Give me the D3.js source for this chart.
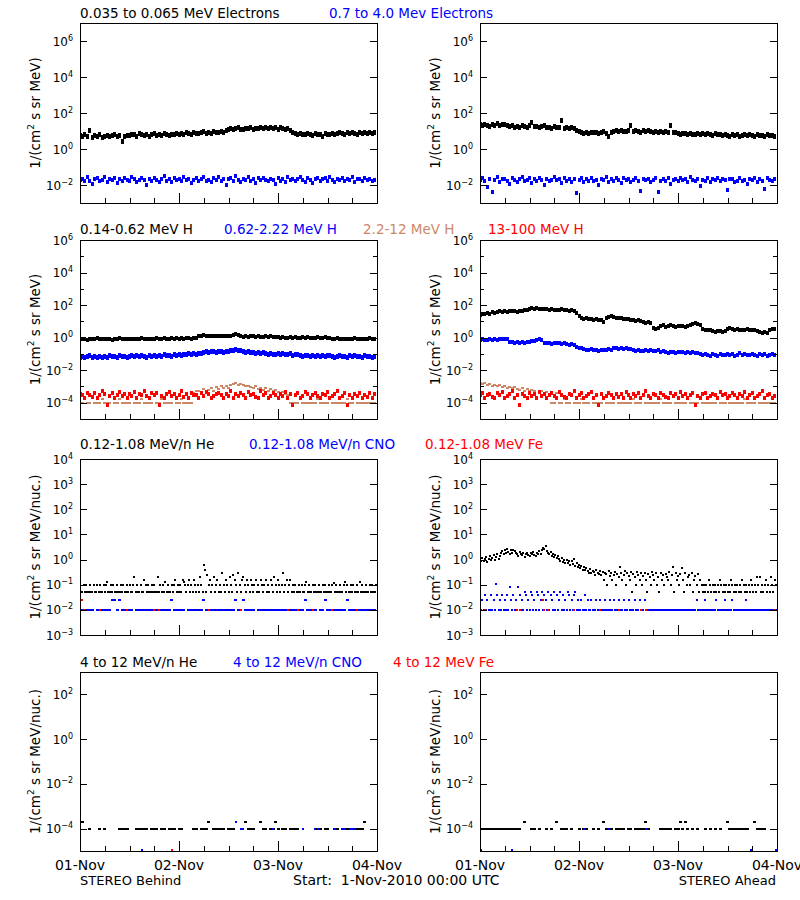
<!DOCTYPE html>
<html><head><meta charset="utf-8">
<script src="https://cdn.jsdelivr.net/npm/d3@7"></script>
<style>
body{margin:0;background:#fff}
svg{display:block}
text{font-family:"DejaVu Sans",sans-serif}
</style>
</head><body>
<svg id="c" width="800" height="900"></svg>
<script>
// ---------------- DATA ----------------
// x tick labels
const xTickLabels = ["01-Nov","02-Nov","03-Nov","04-Nov"];
// titles per row
const titlesRow1 = ["0.035 to 0.065 MeV Electrons","0.7 to 4.0 Mev Electrons"];
const titlesRow2 = ["0.14-0.62 MeV H","0.62-2.22 MeV H","2.2-12 MeV H","13-100 MeV H"];
const titlesRow3 = ["0.12-1.08 MeV/n He","0.12-1.08 MeV/n CNO","0.12-1.08 MeV Fe"];
const titlesRow4 = ["4 to 12 MeV/n He","4 to 12 MeV/n CNO","4 to 12 MeV Fe"];
const yLabelH = "MeV)";
const yLabelN = "MeV/nuc.)";

// Row 1: electrons, log10 flux, 120 samples over 3 days
const eLowBehindLog = [0.75,0.68,0.80,0.71,1.05,0.66,0.74,0.70,0.78,0.63,0.72,0.76,0.69,0.74,0.81,0.67,0.73,0.42,0.70,0.77,
0.74,0.82,0.78,0.71,0.85,0.79,0.76,0.83,0.72,0.80,0.86,0.77,0.81,0.74,0.84,0.79,0.73,0.82,0.78,0.85,
0.80,0.88,0.83,0.90,0.86,0.79,0.92,0.87,0.84,0.91,0.95,0.88,0.93,0.86,0.97,0.92,0.89,0.99,0.94,1.02,
1.10,1.16,1.08,1.14,1.19,1.11,1.07,1.15,1.12,1.18,1.09,1.13,
1.16,1.20,1.12,1.18,1.15,1.21,1.13,1.17,1.10,1.19,1.14,1.08,1.12,1.05,
0.92,0.86,0.80,0.88,0.83,0.78,0.85,0.81,0.76,0.87,0.82,0.79,0.72,0.84,0.80,
0.83,0.88,0.79,0.86,0.91,0.84,0.80,0.89,0.85,0.92,0.87,0.83,0.90,0.86,0.93,0.88,0.91,0.86,0.94];
const eHighBehindLog = [-1.72,-1.65,-1.80,-1.58,-1.75,-1.95,-1.68,-1.62,-1.78,-1.70,
-1.55,-1.83,-1.66,-1.74,-1.60,-1.88,-1.69,-1.76,-1.63,-1.71,
-1.79,-1.57,-1.67,-1.85,-1.73,-1.61,-1.70,-1.98,-1.64,-1.77,
-1.59,-1.72,-1.81,-1.66,-1.52,-1.75,-1.69,-1.86,-1.62,-1.74,
-1.68,-1.80,-1.57,-1.71,-1.65,-1.90,-1.73,-1.60,-1.78,-1.67,
-1.55,-1.76,-1.70,-1.84,-1.63,-1.72,-1.58,-1.79,-1.66,-2.02,
-1.69,-1.61,-1.75,-1.48,-1.72,-1.82,-1.64,-1.70,-1.56,-1.77,
-1.68,-1.87,-1.62,-1.74,-1.59,-1.71,-1.80,-1.65,-1.73,-1.92,
-1.60,-1.76,-1.67,-1.83,-1.58,-1.70,-1.64,-1.78,-1.69,-1.55,
-1.74,-1.81,-1.63,-1.71,-1.88,-1.66,-1.59,-1.75,-1.68,-1.62,
-1.79,-1.57,-1.72,-1.85,-1.65,-1.70,-1.61,-1.77,-1.67,-1.73,
-1.58,-1.82,-1.69,-1.64,-1.76,-1.60,-1.72,-1.66,-1.80,-1.71];
const eLowAheadLog = [1.36,1.30,1.38,1.33,1.27,1.35,1.31,1.39,1.29,1.34,1.37,1.28,
1.25,1.31,1.22,1.27,1.19,1.28,1.24,1.21,1.30,1.46,1.23,1.26,1.18,1.25,1.29,1.22,
1.20,1.15,1.23,1.17,1.21,1.57,1.16,1.22,1.13,1.19,1.14,1.05,
0.95,0.91,0.88,0.93,0.86,0.92,0.89,0.94,0.85,0.90,0.96,0.87,0.70,0.93,
0.97,1.01,0.95,1.03,0.98,1.00,1.04,1.28,0.96,1.02,0.99,0.94,1.01,0.97,1.03,0.95,
0.93,0.98,0.90,0.95,0.91,0.97,0.89,1.31,0.94,0.92,
0.86,0.82,0.88,0.84,0.80,0.87,0.83,0.79,0.85,0.81,0.86,0.78,0.84,0.82,0.77,0.85,0.80,
0.78,0.74,0.81,0.76,0.72,0.79,0.75,0.82,0.70,0.77,0.80,0.73,0.78,0.75,0.71,0.79,0.74,0.76,0.72,0.78,0.73,0.75,0.70];
const eHighAheadLog = [-1.70,-1.62,-1.78,-2.10,-1.66,-2.38,-1.74,-1.58,-1.81,-1.69,
-1.64,-1.76,-1.95,-1.60,-1.72,-1.85,-1.67,-1.55,-1.79,-1.71,
-1.63,-1.88,-1.68,-1.75,-1.59,-1.73,-2.02,-1.65,-1.80,-1.70,
-1.57,-1.74,-1.66,-1.90,-1.61,-1.77,-1.69,-1.82,-1.64,-2.45,
-1.72,-1.60,-1.86,-1.67,-1.75,-1.62,-1.79,-1.71,-1.98,-1.65,
-1.73,-1.58,-1.83,-1.69,-1.76,-1.63,-1.70,-1.88,-1.61,-1.74,
-1.66,-1.81,-1.72,-1.59,-1.77,-2.35,-1.68,-1.73,-1.64,-1.84,
-1.70,-1.62,-2.40,-1.75,-1.67,-1.79,-1.60,-1.93,-1.71,-1.66,
-1.78,-1.63,-1.74,-1.69,-1.86,-1.58,-1.72,-1.80,-1.65,-2.05,
-1.71,-1.76,-1.62,-1.83,-1.68,-1.74,-1.60,-1.79,-1.66,-1.73,
-2.30,-1.69,-1.64,-1.81,-1.75,-1.61,-1.77,-1.70,-1.96,-1.67,
-1.73,-1.59,-1.84,-1.68,-1.76,-2.20,-1.63,-1.71,-1.80,-1.66];

// Row 2: protons, log10 flux, 120 samples
const hLowBehindLog = [-0.10,-0.06,-0.09,-0.12,-0.07,-0.08,-0.11,-0.05,-0.09,-0.07,-0.10,-0.06,-0.08,-0.12,-0.07,-0.09,-0.05,-0.08,-0.10,-0.06,-0.09,-0.07,-0.11,-0.06,-0.08,-0.05,-0.09,-0.07,-0.10,-0.06,-0.08,-0.04,-0.07,-0.09,-0.05,-0.08,-0.06,-0.04,-0.07,-0.05,-0.08,-0.04,-0.06,-0.03,-0.05,-0.07,-0.03,-0.05,
0.08,0.13,0.16,0.11,0.09,0.13,0.10,0.07,0.11,0.09,0.12,0.08,0.10,0.13,
0.17,0.21,0.18,
0.10,0.06,0.08,0.04,0.07,0.09,0.05,0.08,0.06,0.03,0.07,0.05,0.09,0.04,0.06,
0.02,-0.01,0.03,0.00,-0.02,0.01,-0.03,0.02,0.00,-0.01,0.03,-0.02,0.01,-0.04,0.00,-0.02,0.02,-0.01,-0.03,0.01,-0.02,-0.04,
-0.06,-0.09,-0.05,-0.08,-0.11,-0.06,-0.09,-0.07,-0.10,-0.05,-0.08,-0.06,-0.10,-0.07,-0.09,-0.05,-0.08,-0.07];
const hMidBehindLog = [-1.20,-1.14,-1.23,-1.17,-1.12,-1.21,-1.16,-1.25,-1.13,-1.19,-1.15,-1.22,-1.11,-1.18,-1.14,-1.20,-1.10,-1.17,-1.13,-1.21,-1.15,-1.09,-1.18,-1.12,-1.16,-1.08,-1.14,-1.19,-1.11,-1.15,-1.07,-1.13,-1.10,-1.16,-1.06,-1.12,-1.09,-1.14,-1.05,-1.10,
-1.04,-1.08,-1.01,-1.06,-0.99,-1.03,-0.97,-1.02,-0.95,-0.98,
-0.90,-0.86,-0.92,-0.88,-0.84,-0.91,-0.87,-0.85,-0.89,-0.83,-0.86,-0.81,
-0.77,-0.73,-0.76,-0.80,
-0.88,-0.92,-0.87,-0.94,-0.90,-0.95,-0.91,-0.96,-0.93,
-0.99,-1.03,-0.98,-1.05,-1.01,-0.97,-1.04,-1.00,-1.06,-1.02,-0.99,-1.07,-1.03,-1.05,
-1.10,-1.14,-1.08,-1.12,-1.16,-1.09,-1.13,-1.11,-1.17,-1.10,-1.15,-1.12,-1.08,-1.14,-1.22,-1.18,-1.11,-1.15,-1.13,-1.19,-1.10,-1.16,-1.12,-1.18,-1.14,-1.20,-1.11,-1.17,-1.13,-1.19,-1.15];
const hHighBehindLog = [-4.02,-4.02,-3.75,-4.02,-4.02,null,-4.02,-4.02,-4.02,-3.75,
-4.02,-4.02,-4.02,null,-4.02,-4.02,-3.75,-4.02,-4.02,-4.02,
-4.02,null,-4.02,-4.02,-4.02,-3.75,-4.02,-4.02,-4.02,-4.02,
null,-4.02,-4.02,-3.75,-4.02,-4.02,-4.02,-4.02,null,-4.02,
-4.02,-3.75,-4.02,-4.02,-4.02,-4.02,-3.40,-3.30,
-3.25,-3.35,-3.15,-3.30,-3.20,-3.10,-3.28,-3.05,-3.18,-3.00,
-3.12,-2.95,-3.08,-2.90,-2.85,-2.80,-2.88,-2.82,-2.92,-3.00,
-2.95,-3.05,-3.10,-2.98,-3.15,-3.08,-3.20,-3.12,-3.25,-3.18,
-3.30,-3.22,-3.35,-3.40,-3.32,-3.45,-3.50,
-4.02,-4.02,-4.02,-4.02,null,-4.02,-4.02,-4.02,-4.02,-4.02,
-4.02,-3.75,-4.02,-4.02,-4.02,-4.02,null,-4.02,-4.02,-4.02,
-4.02,-4.02,-4.02,-3.75,-4.02,-4.02,null,-4.02,-4.02,-4.02,
-4.02,-4.02,-4.02,-4.02,-4.02];
const hTopBehindLog = [-3.45,-3.55,-3.72,-3.38,-3.50,-3.62,-3.41,-3.72,-3.53,-3.30,
-3.47,-4.15,-3.58,-3.40,-3.72,-3.52,-3.35,-3.60,-3.44,-3.72,
-3.49,-3.57,-3.33,-3.72,-3.46,-3.54,-3.25,-3.61,-3.72,-3.43,
-3.51,-3.39,-4.15,-3.56,-3.72,-3.48,-3.36,-3.59,-3.45,-3.72,
-3.53,-3.28,-3.62,-3.47,-3.72,-3.40,-3.55,-3.50,-3.72,-3.42,
-3.58,-3.34,-3.49,-3.72,-3.61,-3.44,-3.38,-3.52,-3.72,-3.46,
-3.56,-3.31,-3.72,-3.48,-3.59,-3.41,-3.53,-3.72,-3.37,-3.50,
-3.45,-3.62,-3.72,-3.27,-3.54,-3.43,-3.72,-3.57,-3.39,-3.51,
-3.72,-3.46,-3.60,-3.35,-3.72,-3.49,-4.15,-3.55,-3.42,-3.72,
-3.58,-3.32,-3.47,-3.72,-3.53,-3.40,-3.61,-3.72,-3.44,-3.50,
-3.36,-3.72,-3.56,-3.48,-3.29,-3.72,-3.59,-3.43,-4.15,-3.52,
-3.72,-3.45,-3.57,-3.38,-3.72,-3.50,-3.62,-3.41,-3.72,-3.47];
const hLowAheadLog = [1.42,1.48,1.45,1.52,1.47,1.55,1.50,
1.58,1.62,1.56,1.64,1.60,1.66,1.61,1.63,1.58,1.65,1.62,1.68,
1.72,1.76,1.80,1.74,1.82,1.78,1.75,1.79,
1.73,1.70,1.76,1.68,1.72,1.69,1.74,1.67,1.71,1.65,1.70,1.66,
1.50,1.35,
1.22,1.15,1.18,1.12,1.16,1.10,1.13,1.08,1.11,
0.98,
1.20,1.28,1.32,1.26,
1.22,1.18,1.21,1.15,1.12,1.16,1.10,1.07,1.04,1.06,1.00,0.97,0.93,0.95,0.90,
0.62,0.56,0.60,
0.70,0.75,0.68,0.73,0.77,0.71,0.66,0.74,
0.69,0.72,0.64,0.70,0.78,
0.86,0.92,0.84,0.80,
0.55,0.47,0.50,0.44,
0.40,0.36,0.42,0.38,0.35,0.41,
0.55,0.60,
0.52,0.48,0.54,0.46,0.50,0.45,0.51,0.47,0.44,0.49,0.43,
0.35,0.30,0.33,0.28,
0.45,0.52,0.55];
const hMidAheadLog = [-0.14,-0.10,-0.16,-0.12,-0.09,-0.15,-0.11,-0.13,
-0.08,-0.06,-0.10,-0.07,
-0.24,-0.28,-0.31,-0.26,-0.30,-0.27,-0.32,-0.25,-0.29,-0.22,-0.18,
-0.12,-0.10,-0.15,
-0.30,-0.35,-0.32,-0.37,-0.33,-0.36,-0.31,-0.38,-0.34,
-0.42,-0.45,-0.40,-0.47,
-0.55,-0.62,-0.66,-0.70,
-0.74,-0.78,-0.72,-0.77,-0.75,-0.80,-0.73,-0.76,-0.79,-0.71,-0.74,
-0.66,-0.63,-0.68,-0.65,-0.69,-0.64,-0.70,-0.67,
-0.78,-0.82,-0.76,-0.84,-0.80,-0.77,-0.83,-0.79,-0.85,-0.81,-0.78,-0.86,-0.82,
-0.88,-0.92,-0.86,-0.90,-0.94,-0.87,-0.91,-0.89,-0.95,-0.88,-0.93,-0.90,-0.96,-0.92,
-1.02,-1.08,-0.98,-1.05,-1.10,-1.01,-1.06,-1.12,-1.00,-1.04,-1.09,-0.99,-1.07,-1.03,-1.11,-1.05,-0.97,-1.06,-1.02,-1.09,-1.04,-1.00,-1.08,-1.13,-1.03,-1.07,-1.01,-1.10,-1.05,-1.02,-1.06];
const hHighAheadLog = [-2.80,-2.85,-2.78,-2.90,-2.84,-2.95,-2.88,-3.00,-2.92,-3.05,
-2.98,-3.10,-3.02,-3.12,-3.06,-3.15,-3.20,-3.10,-3.25,-3.18,
-3.28,-3.22,-3.30,-3.75,-3.35,-3.28,-3.40,-3.32,-3.45,
-4.02,-4.02,-3.40,-4.02,-4.02,-3.75,-4.02,-4.02,null,-4.02,
-4.02,-4.02,-3.75,-4.02,-4.02,-4.02,null,-4.02,-4.02,-4.02,
-4.02,-3.75,-4.02,-4.02,-4.02,-4.02,null,-4.02,-4.02,-4.02,
-4.02,-4.02,-4.02,-3.75,-4.02,-4.02,-4.02,null,-4.02,-4.02,
-4.02,-4.02,-4.02,-4.02,-3.75,-4.02,-4.02,-4.02,-4.02,null,
-4.02,-4.02,-4.02,-4.02,-4.02,-3.75,-4.02,-4.02,-4.02,-4.02,
null,-4.02,-4.02,-4.02,-4.02,-4.02,-4.02,-3.75,-4.02,-4.02,
-4.02,null,-4.02,-4.02,-4.02,-4.02,-4.02,-4.02,-3.75,-4.02,
-4.02,-4.02,-4.02,null,-4.02,-4.02,-4.02,-4.02,-4.02,-4.02,
-4.02];
const hTopAheadLog = [-3.50,-3.38,-3.72,-3.55,-3.44,-3.62,-3.72,-3.41,-3.53,-3.35,
-3.72,-3.58,-3.47,-3.30,-3.72,-3.52,-4.15,-3.45,-3.60,-3.72,
-3.40,-3.56,-3.48,-3.72,-3.33,-3.61,-3.46,-3.72,-3.54,-3.42,
-3.58,-3.72,-3.37,-3.50,-3.63,-3.72,-3.45,-3.52,-3.28,-3.72,
-3.55,-3.43,-3.72,-3.59,-3.48,-3.36,-3.72,-3.51,-4.15,-3.46,
-3.72,-3.57,-3.40,-3.53,-3.72,-3.44,-3.62,-3.49,-3.72,-3.34,
-3.55,-3.72,-3.47,-3.58,-3.41,-3.72,-3.52,-3.25,-3.60,-3.72,
-3.45,-3.54,-3.72,-3.39,-3.50,-3.63,-3.72,-3.43,-3.56,-3.48,
-3.72,-3.35,-3.59,-3.46,-3.72,-3.53,-3.42,-4.15,-3.57,-3.72,
-3.49,-3.38,-3.72,-3.61,-3.44,-3.51,-3.72,-3.32,-3.55,-3.47,
-3.72,-3.58,-3.41,-3.52,-3.72,-3.45,-3.60,-3.37,-3.72,-3.50,
-3.43,-3.72,-3.56,-3.48,-3.31,-3.72,-3.54,-3.46,-3.72,-3.59];

// Row 3: 0.12-1.08 MeV/n ions, linear flux (0 = no point)
const heSupraBehind = [.1,.05,.05,.1,.05,.1,.05,.05,.1,.05,
.05,.1,.05,.05,.1,.05,.1,.05,.05,.1,
.05,.1,.13,.05,.05,.1,.05,.1,.05,.05,
.1,.05,.05,.1,.05,.1,.05,.05,.1,.05,
.1,.05,.05,.1,.2,.05,.1,.05,.05,.1,
.05,.05,.15,.1,.05,.1,.05,.05,.1,.05,
.1,.05,.05,.2,.05,.1,.05,.1,.05,.13,
.05,.1,.05,.05,.1,.05,.1,.15,.05,.1,
.05,.1,.05,.15,.13,.1,.05,.1,.15,.05,
.1,.05,.15,.1,.05,.1,.05,.2,.1,.05,
.6,.4,.05,.25,.1,.15,.05,.1,.2,.05,
.1,.15,.05,.1,.05,.3,.1,.05,.15,.1,
.05,.2,.1,.05,.25,.15,.1,.05,.3,.1,
.05,.15,.2,.1,.05,.15,.1,.05,.15,.1,
.05,.1,.15,.05,.1,.05,.15,.1,.05,.1,
.15,.05,.1,.05,.15,.1,.05,.2,.1,.05,
.15,.1,.05,.1,.3,.05,.1,.15,.05,.1,
.15,.05,.1,.05,.1,.05,.05,.1,.05,.1,
.05,.05,.1,.13,.05,.1,.05,.05,.1,.05,
.1,.05,.05,.1,.05,.05,.1,.05,.1,.05,
.05,.1,.05,.05,.1,.12,.05,.1,.05,.05,
.1,.05,.05,.1,.13,.05,.1,.05,.05,.1,
.05,.1,.05,.05,.1,.05,.13,.05,.1,.05,
.05,.1,.05,.05,.1,.05,.1,.05,.05,.1];
const cnoSupraBehind = [.01,.01,.01,.01,.01,.01,0,.01,.01,.01,
.01,.01,.01,.025,.025,.01,.025,.01,.01,.01,
.01,.01,0,.01,.01,.01,.01,.01,.01,.01,
.01,.01,.01,.01,.01,.01,.01,.025,.01,.01,
.01,.01,.01,0,.01,.01,.01,.01,.01,.01,
.025,.01,.01,.01,.01,.01,.01,.01,.01,.01,
.01,.01,.01,.025,.01,.01,.025,.01,.01,.01,
.01,0,.01,.01,.01,.01,.01,.01,.01,.01,
.01,.01,.01,.01,.01,.01,.01,.01,.01,.01,
.01,.025,.01,.01,.01,.01,0,.01,.01,.025,
.01,.01,.01,.01,.01,.01,.01,.01,.025,.01,
.01,.01,.01,.01,.01,.01,.01,.01,.01,.01];
// sparse: [hours after start, flux]
const feSupraBehind = [[0.6,.025],[1.2,.01],[4.8,.01],[11.4,.01],[18,.01],[19.2,.01],[31.2,.01],[39,.01],[50.4,.01],[52.8,.01],[56.4,.01],[61.2,.01],[67.2,.01]];
const heSupraAhead = [1.0,.85,1.2,.9,1.1,1.3,.8,1.05,1.4,.95,
1.15,1.5,1.0,1.25,1.6,1.1,1.35,1.8,2.2,1.6,
2.4,1.9,2.6,2.0,1.7,2.3,1.8,2.5,2.1,1.9,
1.6,1.4,2.0,1.7,1.5,1.8,1.3,1.65,1.9,1.55,
1.45,1.75,1.6,2.0,1.5,1.35,1.8,1.6,2.1,1.7,
2.5,3.0,2.7,3.4,2.2,1.9,1.6,2.0,1.4,1.7,
1.3,1.5,1.2,1.45,1.1,0.9,1.15,0.8,1.0,0.75,
0.95,0.7,0.85,0.6,0.9,0.65,1.1,0.55,0.7,0.5,
0.6,0.45,0.55,0.4,0.5,0.38,0.45,0.35,0.3,0.42,
0.28,0.36,0.32,0.25,0.4,0.3,0.27,0.35,0.24,0.33,
0.15,0.3,0.26,0.1,0.34,0.22,0.29,0.15,0.25,0.32,
0.1,0.27,0.2,0.5,0.3,0.15,0.24,0.35,0.1,0.28,
0.22,0.15,0.31,0.05,0.26,0.2,0.1,0.33,0.25,0.15,
0.28,0.1,0.22,0.3,0.15,0.05,0.26,0.2,0.1,0.32,
0.24,0.15,0.28,0.1,0.21,0.05,0.3,0.15,0.25,0.1,
0.27,0.2,0.15,0.33,0.1,0.24,0.5,0.05,0.29,0.15,
0.22,0.1,0.26,0.45,0.15,0.05,0.3,0.1,0.2,0.25,
0.1,0.28,0.05,0.15,0.22,0.1,0.26,0.05,0.15,0.1,
.05,.1,.05,.1,.05,.15,.1,.05,.1,.05,
.1,.05,.1,.05,.15,.1,.05,.1,.05,.1,
.05,.1,.05,.15,.1,.05,.1,.05,.1,.05,
.1,.05,.15,.1,.05,.1,.05,.1,.05,.15,
.1,.05,.1,.05,.2,.1,.2,.05,.1,.05,
.1,.15,.05,.1,.05,.2,.1,.05,.15,.1];
const cnoSupraAhead = [.01,.01,.025,.01,.039,.01,.025,.01,.01,.039,
.01,.025,.01,.107,.039,.01,.025,.01,.039,.01,
.025,.01,.039,.01,.08,.025,.01,.039,.01,.025,
.01,.08,.039,.01,.025,.01,.053,.039,.01,.025,
.01,.053,.039,.01,.025,.01,.053,.039,.01,.025,
.053,.01,.039,.025,.01,.053,.01,.039,.025,.01,
.053,.01,.039,.01,.025,.053,.01,.039,.01,.025,
.01,.053,.039,.01,.025,.01,.039,.053,.01,.025,
.01,.01,.025,.01,.01,.039,.01,.025,.01,.01,
.025,.01,.01,.01,.025,.01,.01,.025,.01,.01,
.01,.025,.01,.01,.01,.025,.01,.01,.025,.01,
.01,.01,.025,.01,.01,.01,.025,.01,.01,.01,
.025,.01,.01,.01,.01,.025,.01,.01,.01,.025,
.01,.01,.01,.025,.01,.01,.01,.01,.01,.01,
.01,.01,.01,.01,.01,.01,.01,.01,.01,.01,
.01,.01,.01,.01,.01,.01,.01,.01,.01,.01,
.01,.01,.01,.01,.01,.01,.01,.01,.01,.01,
.01,.01,.01,.01,.01,.025,.01,.01,.01,.01,
.01,.01,.025,.01,.01,.01,.01,.01,.01,.01,
.01,.025,.01,.01,.01,.01,.01,.01,.025,.01,
.01,.01,.01,.01,.025,.01,.01,.01,.01,.01,
.01,.01,.01,.01,.01,.025,.01,.01,.01,.01,
.01,.01,.01,.01,.01,.01,.01,.01,.01,.01,
.01,.01,.01,.01,.01,.01,.01,.01,.01,.01];
const feSupraAhead = [[1.2,.01],[8.9,.01],[9.7,.01],[15.2,.025],[15.4,.01],[16.6,.01],[22.7,.01],[29.1,.01],[33.6,.01],[39,.01],[40.3,.01],[71.6,.01]];

// Row 4: 4-12 MeV/n ions, linear flux (0 = no point), 120 samples
const heHighBehind = [0,2e-4,0,0,1e-4,0,0,0,1e-4,0,
1e-4,0,0,0,0,0,1e-4,1e-4,1e-4,1e-4,
0,0,0,1e-4,1e-4,1e-4,1e-4,1e-4,0,1e-4,
1e-4,1e-4,0,1e-4,1e-4,0,1e-4,1e-4,1e-4,0,
1e-4,1e-4,0,0,0,0,1e-4,1e-4,0,1e-4,
1e-4,1e-4,2e-4,0,1e-4,1e-4,1e-4,1e-4,1e-4,0,
1e-4,1e-4,1e-4,0,0,0,0,2e-4,1e-4,1e-4,
1e-4,0,0,2e-4,1e-4,1e-4,0,1e-4,1e-4,2e-4,
1e-4,0,1e-4,1e-4,0,1e-4,1e-4,1e-4,1e-4,0,
0,0,0,0,0,1e-4,1e-4,1e-4,0,1e-4,
1e-4,0,0,1e-4,1e-4,0,0,1e-4,1e-4,0,
1e-4,0,1e-4,1e-4,1e-4,2e-4,0,0,0,0];
const cnoHighBehind = [[39,1e-4],[39.6,1e-4],[46.8,1e-4],[54,1e-4],[57,1e-4],[57.6,1e-4],[61.8,1e-4],[63.6,1e-4],[64.2,1e-4],[65.4,1e-4],[66,1e-4],[66.6,1e-4],[37.8,2e-4],[15,1.1e-5]];
const feHighBehind = [[22.2,1.1e-5]];
const heHighAhead = [1e-4,1e-4,1e-4,1e-4,1e-4,1e-4,1e-4,1e-4,1e-4,1e-4,
1e-4,1e-4,1e-4,1e-4,1e-4,1e-4,1e-4,0,2e-4,0,
0,1e-4,1e-4,0,1e-4,0,0,1e-4,0,1e-4,
0,2e-4,0,1e-4,1e-4,1e-4,0,1e-4,0,0,
1e-4,0,1e-4,1e-4,0,0,1e-4,0,1e-4,0,
2e-4,1e-4,1e-4,1e-4,0,1e-4,1e-4,1e-4,1e-4,0,
1e-4,1e-4,0,1e-4,1e-4,1e-4,1e-4,2e-4,1e-4,0,
0,0,0,1e-4,1e-4,1e-4,1e-4,1e-4,0,1e-4,
1e-4,2e-4,1e-4,2e-4,1e-4,0,1e-4,0,1e-4,0,
0,1e-4,0,1e-4,0,1e-4,0,1e-4,0,0,
2e-4,1e-4,1e-4,1e-4,1e-4,1e-4,1e-4,1e-4,1e-4,0,
0,2e-4,1e-4,1e-4,1e-4,1e-4,0,0,0,0];
const cnoHighAhead = [[25.2,1e-4],[31.2,1e-4],[40.2,1e-4],[0.2,1.1e-5],[7.8,1.1e-5],[65.7,1.1e-5],[71.8,1.1e-5]];
const feHighAhead = [];

// ---------------- LAYOUT ----------------
const BLACK = "#000000", BLUE = "#0000ff", BROWN = "#cc8866", RED = "#ff0000";
const svg = d3.select("#c");
const t0 = Date.UTC(2010, 10, 1), HOUR = 3600e3, SPAN_H = 72;
const cols = [{x0: 80, x1: 377}, {x0: 480, x1: 777}];
const rows = [
  {y0: 23, y1: 203, dom: [1e-3, 1e7], major: [-2, 0, 2, 4, 6], minor: [], ylab: yLabelH, titleY: 18,
   titles: titlesRow1, colors: [BLACK, BLUE], tx: [80, 329]},
  {y0: 240, y1: 419, dom: [1e-5, 1e6], major: [-4, -2, 0, 2, 4, 6], minor: [-3, -1, 1, 3, 5], ylab: yLabelH, titleY: 234,
   titles: titlesRow2, colors: [BLACK, BLUE, BROWN, RED], tx: [80, 224, 363, 488]},
  {y0: 459, y1: 635, dom: [1e-3, 1e4], major: [-3, -2, -1, 0, 1, 2, 3, 4], minor: [], ylab: yLabelN, titleY: 449,
   titles: titlesRow3, colors: [BLACK, BLUE, RED], tx: [80, 249, 425]},
  {y0: 672, y1: 851, dom: [1e-5, 1e3], major: [-4, -2, 0, 2], minor: [], ylab: yLabelN, titleY: 667,
   titles: titlesRow4, colors: [BLACK, BLUE, RED], tx: [80, 233, 393]}
];
// series per panel [row][col]; w/h = marker size in px
const panelSeries = [
  [[{d: eLowBehindLog, log: 1, c: BLACK, w: 3, h: 5}, {d: eHighBehindLog, log: 1, c: BLUE, w: 3, h: 4}],
   [{d: eLowAheadLog, log: 1, c: BLACK, w: 3, h: 5}, {d: eHighAheadLog, log: 1, c: BLUE, w: 3, h: 4}]],
  [[{d: hLowBehindLog, log: 1, c: BLACK, w: 3, h: 4}, {d: hMidBehindLog, log: 1, c: BLUE, w: 3, h: 5},
    {d: hHighBehindLog, log: 1, c: BROWN, w: 3, h: 2}, {d: hTopBehindLog, log: 1, c: RED, w: 3, h: 4}],
   [{d: hLowAheadLog, log: 1, c: BLACK, w: 3, h: 4}, {d: hMidAheadLog, log: 1, c: BLUE, w: 3, h: 4},
    {d: hHighAheadLog, log: 1, c: BROWN, w: 3, h: 2}, {d: hTopAheadLog, log: 1, c: RED, w: 3, h: 4}]],
  [[{d: heSupraBehind, c: BLACK, w: 2, h: 2}, {d: cnoSupraBehind, c: BLUE, w: 3, h: 2}, {d: feSupraBehind, sparse: 1, c: RED, w: 2, h: 2}],
   [{d: heSupraAhead, c: BLACK, w: 2, h: 2}, {d: cnoSupraAhead, c: BLUE, w: 2, h: 2}, {d: feSupraAhead, sparse: 1, c: RED, w: 2, h: 2}]],
  [[{d: heHighBehind, c: BLACK, w: 3, h: 2}, {d: cnoHighBehind, sparse: 1, c: BLUE, w: 2, h: 2}, {d: feHighBehind, sparse: 1, c: RED, w: 2, h: 2}],
   [{d: heHighAhead, c: BLACK, w: 3, h: 2}, {d: cnoHighAhead, sparse: 1, c: BLUE, w: 2, h: 2}, {d: feHighAhead, sparse: 1, c: RED, w: 2, h: 2}]]
];

function toPoints(s) {
  if (s.sparse) return s.d.map(([h, v]) => ({h, v}));
  const step = SPAN_H / s.d.length;
  return s.d.map((v, i) => ({h: i * step, v: v == null ? null : (s.log ? Math.pow(10, v) : v)}))
            .filter(p => p.v != null && p.v > 0);
}

const defs = svg.append("defs");

rows.forEach((r, ri) => {
  r.titles.forEach((t, k) => {
    svg.append("text").attr("x", r.tx[k]).attr("y", r.titleY).attr("fill", r.colors[k])
      .attr("font-size", "13.5px").text(t);
  });
  cols.forEach((c, ci) => {
    const x = d3.scaleUtc().domain([new Date(t0), new Date(t0 + SPAN_H * HOUR)]).range([c.x0, c.x1]);
    const y = d3.scaleLog().domain(r.dom).range([r.y1, r.y0]);
    const g = svg.append("g");
    const cid = `clip${ri}${ci}`;
    defs.append("clipPath").attr("id", cid).append("rect")
      .attr("x", c.x0).attr("y", r.y0).attr("width", c.x1 - c.x0).attr("height", r.y1 - r.y0);
    const dg = g.append("g").attr("clip-path", `url(#${cid})`).attr("shape-rendering", "crispEdges");
    panelSeries[ri][ci].forEach(s => {
      const pts = toPoints(s);
      dg.selectAll(null).data(pts).enter().append("rect")
        .attr("x", p => x(new Date(t0 + p.h * HOUR)) - s.w / 2)
        .attr("y", p => y(p.v) - s.h / 2)
        .attr("width", s.w).attr("height", s.h)
        .attr("fill", s.c);
    });
    g.append("rect").attr("x", c.x0).attr("y", r.y0).attr("width", c.x1 - c.x0).attr("height", r.y1 - r.y0)
      .attr("fill", "none").attr("stroke", "#000").attr("stroke-width", 1).attr("shape-rendering", "crispEdges");
    const tg = g.append("g").attr("stroke", "#000").attr("shape-rendering", "crispEdges");
    r.major.concat(r.minor).forEach(e => {
      const len = r.minor.includes(e) ? 4 : 7;
      const yy = Math.round(y(Math.pow(10, e))) + 0.5;
      tg.append("line").attr("x1", c.x0).attr("x2", c.x0 + len).attr("y1", yy).attr("y2", yy);
      tg.append("line").attr("x1", c.x1 - len).attr("x2", c.x1).attr("y1", yy).attr("y2", yy);
    });
    r.major.forEach(e => {
      const yy = y(Math.pow(10, e));
      const t = g.append("text").attr("x", c.x0 - 7).attr("y", yy + 4.5).attr("text-anchor", "end")
        .attr("font-size", "12px").attr("fill", "#000");
      t.append("tspan").text("10");
      t.append("tspan").attr("font-size", "8px").attr("dy", -5).text(String(e).replace("-", "\u2212"));
    });
    const xticks = x.ticks(d3.utcHour.every(6));
    xticks.forEach(d => {
      const isDay = d.getUTCHours() === 0;
      const xx = Math.round(x(d)) + 0.5;
      g.append("line").attr("x1", xx).attr("x2", xx).attr("y1", r.y1).attr("y2", r.y1 - (isDay ? 10 : 5))
        .attr("stroke", "#000").attr("shape-rendering", "crispEdges");
    });
    if (ri === rows.length - 1) {
      x.ticks(d3.utcDay.every(1)).forEach((d, k) => {
        g.append("text").attr("x", x(d)).attr("y", 870).attr("text-anchor", "middle")
          .attr("font-size", "14px").text(xTickLabels[k]);
      });
    }
    const cy = (r.y0 + r.y1) / 2;
    const lab = g.append("text").attr("transform", `translate(${c.x0 - 40},${cy}) rotate(-90)`)
      .attr("text-anchor", "middle").attr("font-size", "13.5px");
    lab.append("tspan").text("1/(cm");
    lab.append("tspan").attr("font-size", "9px").attr("dy", -6).text("2");
    lab.append("tspan").attr("dy", 6).text(" s sr " + r.ylab);
  });
});

svg.append("text").attr("x", 80).attr("y", 885).attr("font-size", "13px").text("STEREO Behind");
svg.append("text").attr("x", 293).attr("y", 885).attr("font-size", "14px").attr("xml:space", "preserve").text("Start:  1-Nov-2010 00:00 UTC");
svg.append("text").attr("x", 776).attr("y", 885).attr("font-size", "13px").attr("text-anchor", "end").text("STEREO Ahead");
</script>
</body></html>
